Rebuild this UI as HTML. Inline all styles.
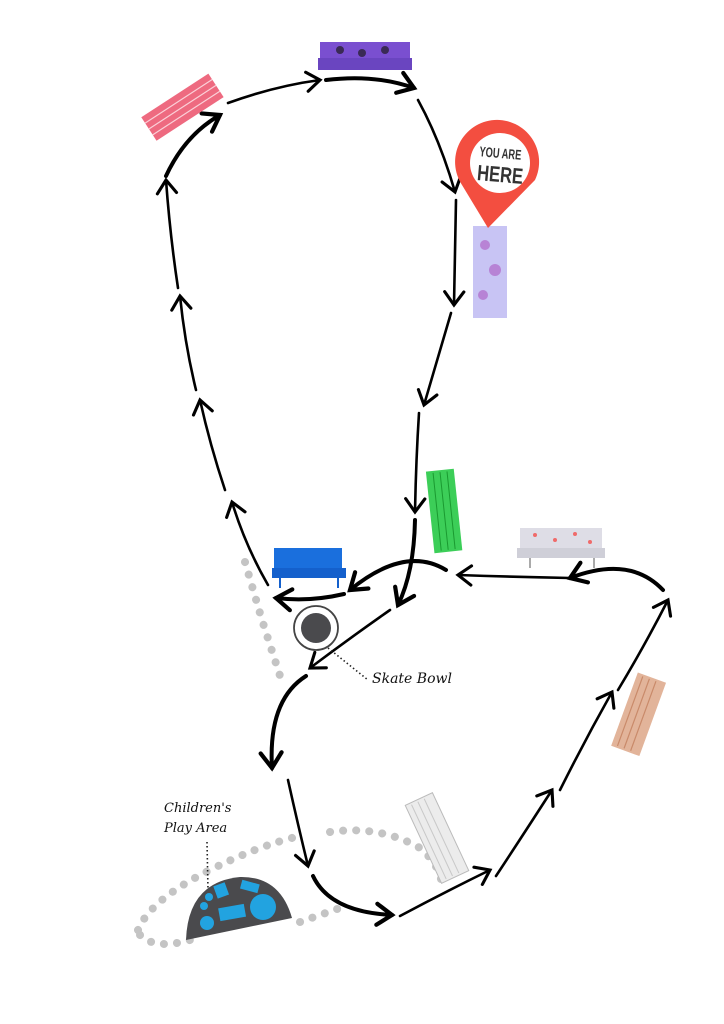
<!DOCTYPE html>
<html><head><meta charset="utf-8"><style>
html,body{margin:0;padding:0;background:#fff;}
svg{display:block;}
.s{font-family:"DejaVu Serif","Liberation Serif",serif;font-style:italic;fill:#111;}
</style></head><body>
<svg width="724" height="1024" viewBox="0 0 724 1024" xmlns="http://www.w3.org/2000/svg">
<defs>
<marker id="a" markerUnits="userSpaceOnUse" markerWidth="24" markerHeight="24" viewBox="-14 -10 18 20" refX="0" refY="0" orient="auto">
<path d="M-11,-8 L0,0 L-11,8" fill="none" stroke="#000" stroke-width="2.6" stroke-linecap="round"/>
</marker>
<marker id="b" markerUnits="userSpaceOnUse" markerWidth="28" markerHeight="28" viewBox="-16 -12 20 24" refX="0" refY="0" orient="auto">
<path d="M-13,-9 L0,0 L-13,9" fill="none" stroke="#000" stroke-width="3.6" stroke-linecap="round"/>
</marker>
</defs>

<g fill="none" stroke="#c4c4c4" stroke-width="8" stroke-linecap="round" stroke-dasharray="0.1 13">
<path d="M245,562 L262,620 L282,682"/>
<path d="M138,930 Q150,900 210,870 Q260,845 300,836"/>
<path d="M330,832 Q380,825 420,848 Q440,865 442,885"/>
<path d="M140,935 Q155,950 190,940"/>
<path d="M300,922 L340,908"/>
</g>

<g fill="none" stroke="#000" stroke-width="2.6" stroke-linecap="round">
<path d="M268,585 Q245,545 232,502" marker-end="url(#a)"/>
<path d="M225,490 Q210,445 200,400" marker-end="url(#a)"/>
<path d="M196,390 Q185,345 180,296" marker-end="url(#a)"/>
<path d="M178,288 Q170,235 166,180" marker-end="url(#a)"/>
<path d="M166,176 Q185,135 220,115" stroke-width="4" marker-end="url(#b)"/>
<path d="M228,103 Q275,86 320,80" marker-end="url(#a)"/>
<path d="M326,80 Q375,74 414,88" stroke-width="4" marker-end="url(#b)"/>
<path d="M418,100 Q440,140 455,192" marker-end="url(#a)"/>
<path d="M456,200 Q455,255 454,305" marker-end="url(#a)"/>
<path d="M451,313 Q437,360 424,405" marker-end="url(#a)"/>
<path d="M419,413 Q416,460 415,512" marker-end="url(#a)"/>
<path d="M415,520 Q414,572 398,605" stroke-width="4" marker-end="url(#b)"/>
<path d="M446,570 Q405,545 350,590" stroke-width="4" marker-end="url(#b)"/>
<path d="M344,594 Q310,602 276,598" stroke-width="4" marker-end="url(#b)"/>
<path d="M570,578 Q515,577 458,575" marker-end="url(#a)"/>
<path d="M663,590 Q630,555 570,578" stroke-width="4" marker-end="url(#b)"/>
<path d="M618,690 Q645,645 668,600" marker-end="url(#a)"/>
<path d="M560,790 Q585,740 612,692" marker-end="url(#a)"/>
<path d="M496,876 Q525,832 552,790" marker-end="url(#a)"/>
<path d="M400,916 Q445,892 490,870" marker-end="url(#a)"/>
<path d="M313,876 Q330,912 392,915" stroke-width="4" marker-end="url(#b)"/>
<path d="M288,780 Q298,825 308,866" marker-end="url(#a)"/>
<path d="M306,676 Q268,700 272,768" stroke-width="4" marker-end="url(#b)"/>
<path d="M390,610 Q350,638 310,668" marker-end="url(#a)"/>
</g>

<circle cx="316" cy="628" r="22" fill="#fff" stroke="#444" stroke-width="1.8"/>
<circle cx="316" cy="628" r="15" fill="#4a4a4d"/>
<path d="M328,648 L368,680" stroke="#222" stroke-width="1.6" stroke-dasharray="1.5 2.5"/>
<text x="372" y="683" class="s" font-size="14">Skate Bowl</text>

<text x="164" y="812" class="s" font-size="13">Children's</text>
<text x="164" y="832" class="s" font-size="13">Play Area</text>
<path d="M207,842 L208,890" stroke="#222" stroke-width="1.6" stroke-dasharray="1.5 2.5"/>
<path d="M186,940 Q188,882 240,877 Q280,876 292,918 Z" fill="#4a4a4d"/>
<g fill="#22a3e0">
<circle cx="263" cy="907" r="13"/>
<circle cx="207" cy="923" r="7"/>
<circle cx="204" cy="906" r="4"/>
<circle cx="209" cy="897" r="4"/>
<rect x="215" y="884" width="12" height="13" transform="rotate(-20 221 890)"/>
<rect x="241" y="882" width="18" height="9" transform="rotate(15 250 886)"/>
<rect x="219" y="906" width="26" height="13" transform="rotate(-10 232 912)"/>
</g>

<g transform="rotate(-33 183 108)"><rect x="143" y="93" width="80" height="28" fill="#ee6a80"/><g stroke="#fbd0d8" stroke-width="1.2"><line x1="143" y1="100" x2="223" y2="100"/><line x1="143" y1="107" x2="223" y2="107"/><line x1="143" y1="114" x2="223" y2="114"/></g></g>
<rect x="320" y="42" width="90" height="18" fill="#7a4fd0"/><rect x="318" y="58" width="94" height="12" fill="#6a45c0"/><g fill="#3a2a55"><circle cx="340" cy="50" r="4"/><circle cx="362" cy="53" r="4"/><circle cx="385" cy="50" r="4"/></g>
<rect x="473" y="226" width="34" height="92" fill="#c8c4f4"/><g fill="#b068c8" opacity="0.7"><circle cx="485" cy="245" r="5"/><circle cx="495" cy="270" r="6"/><circle cx="483" cy="295" r="5"/></g>
<g transform="rotate(-6 444 510)"><rect x="430" y="470" width="28" height="82" fill="#3cce58"/><g stroke="#1a9a30" stroke-width="1"><line x1="437" y1="472" x2="437" y2="550"/><line x1="444" y1="472" x2="444" y2="550"/><line x1="451" y1="472" x2="451" y2="550"/></g></g>
<rect x="274" y="548" width="68" height="22" fill="#1a6fdd"/><rect x="272" y="568" width="74" height="10" fill="#1460cc"/><line x1="280" y1="578" x2="280" y2="588" stroke="#1460cc" stroke-width="2"/><line x1="338" y1="578" x2="338" y2="588" stroke="#1460cc" stroke-width="2"/>
<rect x="520" y="528" width="82" height="22" fill="#dedde6"/><rect x="517" y="548" width="88" height="10" fill="#cfcfd8"/><g fill="#f06a6a"><circle cx="535" cy="535" r="2"/><circle cx="555" cy="540" r="2"/><circle cx="575" cy="534" r="2"/><circle cx="590" cy="542" r="2"/></g><line x1="530" y1="558" x2="530" y2="568" stroke="#aaa" stroke-width="2"/><line x1="594" y1="558" x2="594" y2="568" stroke="#aaa" stroke-width="2"/>
<g transform="rotate(20 638 713)"><rect x="624" y="675" width="30" height="78" fill="#e2b49a"/><g stroke="#c98a6a" stroke-width="1.2"><line x1="630" y1="677" x2="630" y2="751"/><line x1="637" y1="677" x2="637" y2="751"/><line x1="644" y1="677" x2="644" y2="751"/></g></g>
<g transform="rotate(-25 437 838)"><rect x="422" y="795" width="30" height="86" fill="#ececec" stroke="#bbb" stroke-width="1"/><g stroke="#c8c8c8" stroke-width="1"><line x1="428" y1="797" x2="428" y2="879"/><line x1="435" y1="797" x2="435" y2="879"/><line x1="442" y1="797" x2="442" y2="879"/></g></g>

<path d="M488,228 L462,185 A42,42 0 1 1 535,180 Z" fill="#f34e40"/>
<circle cx="500" cy="163" r="30" fill="#fff"/>
<text x="500" y="158" text-anchor="middle" font-family="Liberation Sans Narrow,Liberation Sans,sans-serif" font-weight="bold" font-size="14" fill="#333" textLength="42" lengthAdjust="spacingAndGlyphs" transform="rotate(5 500 158)">YOU ARE</text>
<text x="500" y="182" text-anchor="middle" font-family="Liberation Sans Narrow,Liberation Sans,sans-serif" font-weight="bold" font-size="22" fill="#333" textLength="46" lengthAdjust="spacingAndGlyphs" transform="rotate(5 500 176)">HERE</text>
</svg>
</body></html>
